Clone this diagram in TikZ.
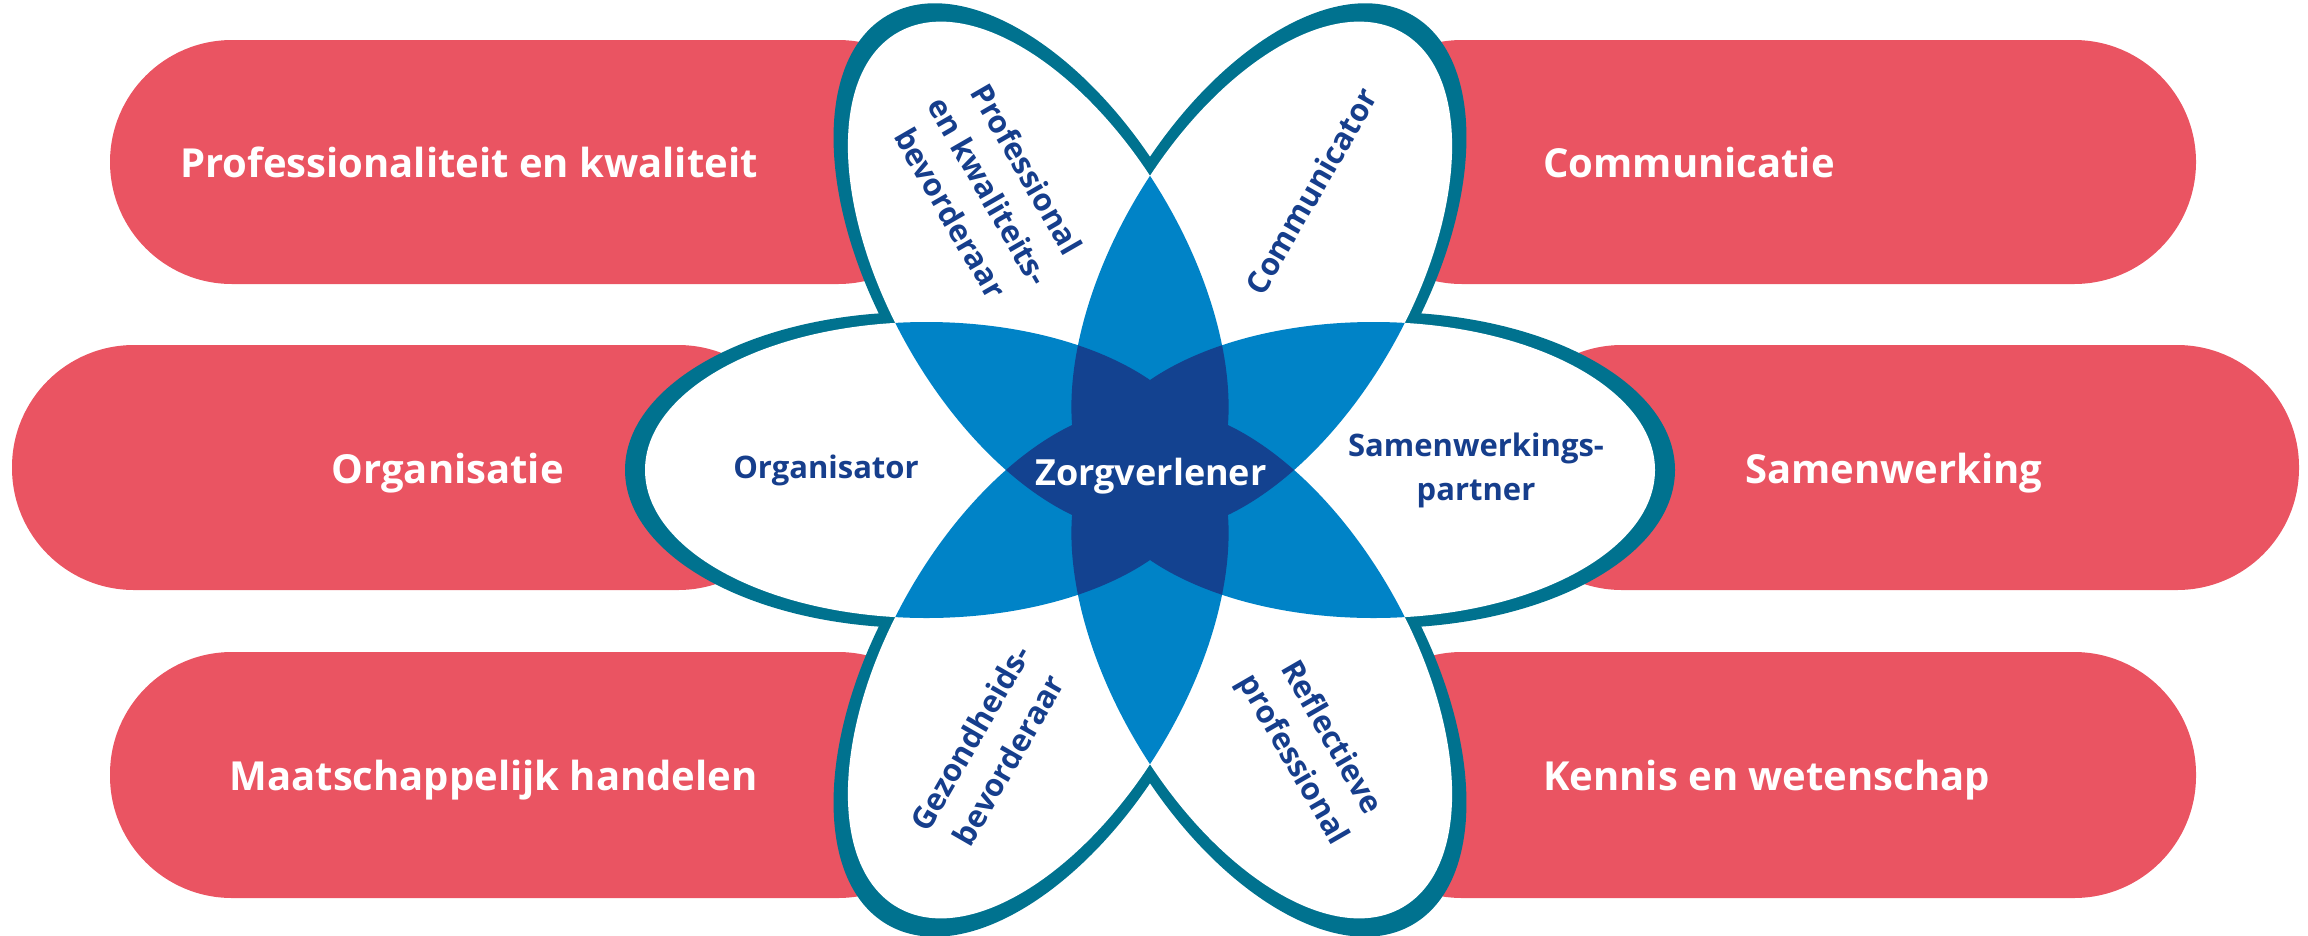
\documentclass[tikz,border=0pt]{standalone}
\usepackage{fontspec}
\setmainfont{Open Sans}
\usepackage{tikz}

\definecolor{barred}{RGB}{234,84,98}
\definecolor{rim}{RGB}{0,114,143}
\definecolor{midblue}{RGB}{0,131,199}
\definecolor{deepblue}{RGB}{19,66,144}
\definecolor{rolenavy}{RGB}{22,62,140}

\newcommand{\petalwhite}{(223.5,0) ellipse [x radius=281.5, y radius=148]}
\newcommand{\petalrim}{(232,0) ellipse [x radius=293, y radius=158]}

\tikzset{
  petal/.style={shift={(1150,470)}, rotate=#1},
  bar/.style={fill=barred, rounded corners=122},
  barlabel/.style={text=white, font=\bfseries\fontsize{40}{48}\selectfont, inner sep=0pt},
  rolelabel/.style={text=rolenavy, font=\bfseries\fontsize{31}{44}\selectfont, align=center, inner sep=0pt},
}

\begin{document}
\begin{tikzpicture}[x=1pt, y=-1pt]
                \useasboundingbox (0,0) rectangle (2308,935);
                % bars behind the flower
                \fill[bar] (110,40) rectangle (960,284);
                \fill[bar] (1340,40) rectangle (2196,284);
                \fill[bar] (12,345) rectangle (800,590);
                \fill[bar] (1500,345) rectangle (2299,590);
                \fill[bar] (110,652) rectangle (960,898);
                \fill[bar] (1340,652) rectangle (2196,898);
                % petals
                \foreach \a in {0,60,...,300} \fill[rim, petal=\a] \petalrim;
                \foreach \a in {0,60,...,300} \fill[white, petal=\a] \petalwhite;
                \foreach \i in {0,...,4}{
                  \pgfmathtruncatemacro\js{\i+1}
                  \foreach \j in {\js,...,5}{
                    \begin{scope}
                      \clip[petal=\i*60] \petalwhite;
                      \fill[midblue, petal=\j*60] \petalwhite;
                    \end{scope}
                  }
                }
                \foreach \i in {0,...,3}{
                  \pgfmathtruncatemacro\js{\i+1}
                  \foreach \j in {\js,...,4}{
                    \pgfmathtruncatemacro\ks{\j+1}
                    \foreach \k in {\ks,...,5}{
                      \begin{scope}
                        \clip[petal=\i*60] \petalwhite;
                        \clip[petal=\j*60] \petalwhite;
                        \fill[deepblue, petal=\k*60] \petalwhite;
                      \end{scope}
                    }
                  }
                }
                % labels
                \node[barlabel, anchor=base east] (profbar) at (758,177) {Professionaliteit en kwaliteit};
                \node[barlabel, anchor=base west] (commbar) at (1543,177) {Communicatie};
                \node[barlabel, anchor=base east] (orgbar) at (564,483) {Organisatie};
                \node[barlabel, anchor=base west] (sambar) at (1745,483) {Samenwerking};
                \node[barlabel, anchor=base east] (maatbar) at (758,790) {Maatschappelijk handelen};
                \node[barlabel, anchor=base west] (kennisbar) at (1543,790) {Kennis en wetenschap};
                \node[text=white, font=\bfseries\fontsize{36}{40}\selectfont, inner sep=0pt, anchor=base] (zorg) at (1151,485) {Zorgverlener};
                \node[rolelabel] (organisator) at (826,470) {Organisator};
                \node[rolelabel] (samenwerker) at (1476,470) {Samenwerkings-\\partner};
                \node[rolelabel, rotate=-60] (professional) at (989,191) {Professional\\en kwaliteits-\\bevorderaar};
                \node[rolelabel, rotate=60] (communicator) at (1311,191) {Communicator};
                \node[rolelabel, rotate=60] (gezondheid) at (989,749) {Gezondheids-\\bevorderaar};
                \node[rolelabel, rotate=-60] (reflectie) at (1311,749) {Reflectieve\\professional};
            \end{tikzpicture}
\end{document}
